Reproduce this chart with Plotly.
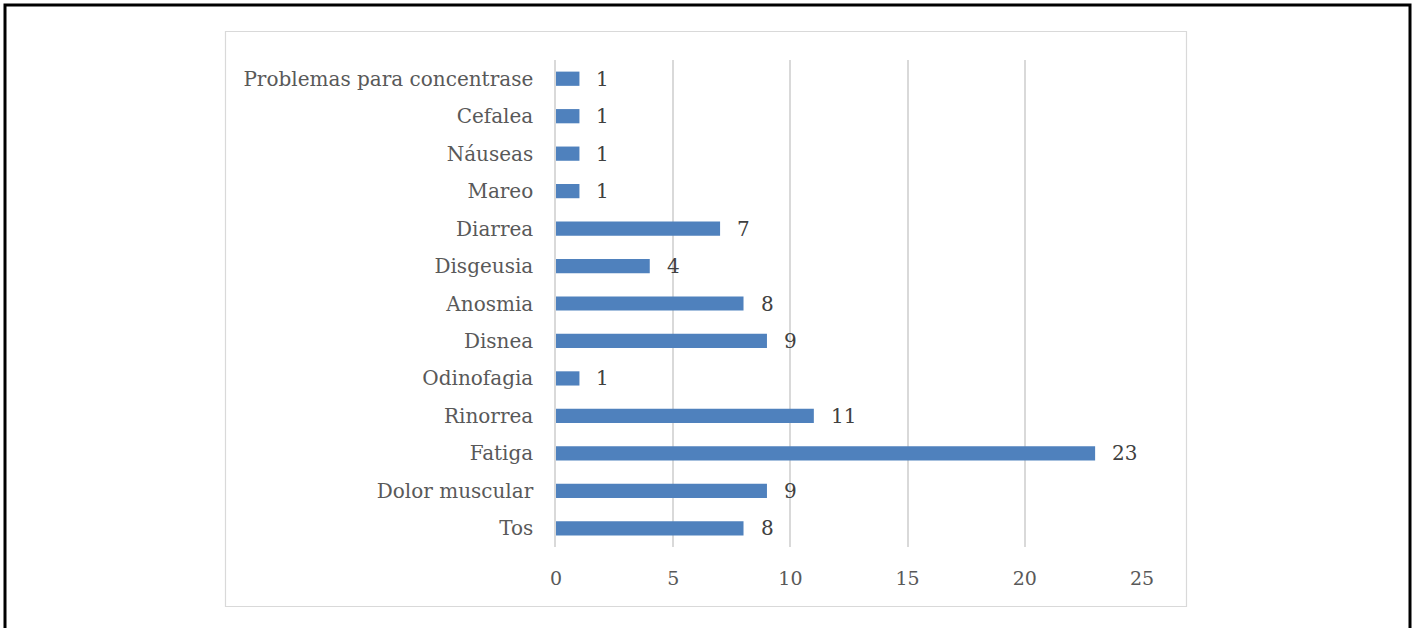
import plotly.graph_objects as go

# Síntomas reportados (de abajo hacia arriba en el eje)
sintomas = ["Tos", "Dolor muscular", "Fatiga", "Rinorrea", "Odinofagia", "Disnea",
            "Anosmia", "Disgeusia", "Diarrea", "Mareo", "Náuseas", "Cefalea",
            "Problemas para concentrase"]
casos = [8, 9, 23, 11, 1, 9, 8, 4, 7, 1, 1, 1, 1]
x_ticks = [0, 5, 10, 15, 20, 25]

W, H = 1415, 628
L, R, T, B = 556, 1142, 60, 547  # plot area in pixels


def px_x(p):
    return (p - L) / (R - L)


def px_y(p):
    return (B - p) / (B - T)


FONT = "DejaVu Serif"

fig = go.Figure(go.Bar(
    y=sintomas, x=casos, orientation="h",
    marker=dict(color="#4F81BD", line=dict(width=0)),
    width=0.38,
))

annotations = [
    dict(x=v, y=s, text=str(v), showarrow=False, xanchor="left", xshift=15,
         font=dict(family=FONT, size=20, color="#404040"))
    for s, v in zip(sintomas, casos)
]

shapes = [
    # marco exterior
    dict(type="rect", xref="paper", yref="paper",
         x0=px_x(5), x1=px_x(1410), y0=px_y(640), y1=px_y(5),
         line=dict(color="black", width=3), fillcolor="rgba(0,0,0,0)", layer="below"),
    # marco del gráfico
    dict(type="rect", xref="paper", yref="paper",
         x0=px_x(225.5), x1=px_x(1186.5), y0=px_y(606.5), y1=px_y(31.5),
         line=dict(color="#D9D9D9", width=1.2), fillcolor="rgba(0,0,0,0)", layer="below"),
]

fig.update_layout(
    width=W, height=H,
    margin=dict(l=L, r=W - R, t=T, b=H - B),
    paper_bgcolor="white", plot_bgcolor="white",
    showlegend=False,
    bargap=0.62,
    annotations=annotations,
    shapes=shapes,
    font=dict(family=FONT, size=20, color="#595959"),
)
fig.update_xaxes(range=[0, 25], tickvals=x_ticks, showgrid=True, gridcolor="#D9D9D9",
                 gridwidth=1.5, zeroline=False, showline=False, ticks="",
                 tickfont=dict(family=FONT, size=19, color="#595959"), ticklabelstandoff=18)
fig.update_yaxes(categoryorder="array", categoryarray=sintomas, showgrid=False,
                 showline=True, linecolor="#D9D9D9", linewidth=1.5, ticks="",
                 ticklabelstandoff=17,
                 tickfont=dict(family=FONT, size=20, color="#595959"))

fig.write_html("out.html")
